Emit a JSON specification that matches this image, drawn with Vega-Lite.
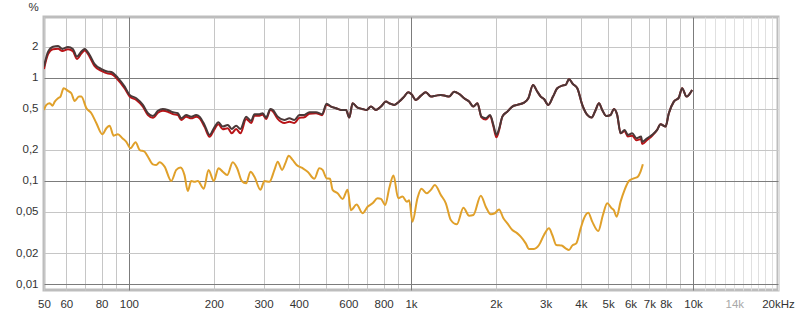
{
"$schema": "https://vega.github.io/schema/vega-lite/v6.json",
"autosize": "none",
"width": 734,
"height": 273,
"padding": {"left": 44, "top": 17, "right": 22, "bottom": 30},
"background": "white",
"config": {
  "view": {"stroke": "#bdbdbd", "strokeWidth": 3},
  "font": "Liberation Sans",
  "axis": {"labelFont": "Liberation Sans", "labelFontSize": 11.5, "labelColor": "#333333", "domain": false, "ticks": false, "gridWidth": 1}
},
"datasets": {
  "h3": [
{"f":50,"v":0.489},{"f":51,"v":0.547},{"f":52.4,"v":0.568},{"f":53.6,"v":0.538},{"f":54.6,"v":0.589},{"f":56.1,"v":0.635},{"f":57.2,"v":0.659},{"f":58.7,"v":0.794},{"f":60.8,"v":0.748},{"f":62.5,"v":0.71},{"f":64.2,"v":0.598},{"f":66.5,"v":0.659},{"f":67.8,"v":0.659},{"f":70.7,"v":0.508},{"f":73.6,"v":0.454},{"f":76.7,"v":0.363},{"f":80.5,"v":0.284},{"f":83.2,"v":0.325},{"f":85.4,"v":0.344},{"f":88.3,"v":0.275},{"f":91.4,"v":0.284},{"f":94.8,"v":0.26},{"f":97.9,"v":0.24},{"f":101.2,"v":0.208},{"f":105.6,"v":0.238},{"f":109.1,"v":0.2},{"f":113.7,"v":0.192},{"f":116.8,"v":0.172},{"f":121.6,"v":0.145},{"f":125,"v":0.143},{"f":128.4,"v":0.152},{"f":133.8,"v":0.138},{"f":141.3,"v":0.1},{"f":147.2,"v":0.128},{"f":152.4,"v":0.135},{"f":157.4,"v":0.114},{"f":161.7,"v":0.08},{"f":166.3,"v":0.1},{"f":170.8,"v":0.098},{"f":175.5,"v":0.1},{"f":184.3,"v":0.084},{"f":191.5,"v":0.128},{"f":200,"v":0.1},{"f":207.7,"v":0.133},{"f":215.1,"v":0.123},{"f":223,"v":0.114},{"f":233.4,"v":0.152},{"f":241.9,"v":0.133},{"f":251.2,"v":0.1},{"f":260.4,"v":0.095},{"f":269.7,"v":0.123},{"f":278.6,"v":0.11},{"f":292.6,"v":0.082},{"f":302.3,"v":0.1},{"f":314.8,"v":0.098},{"f":328,"v":0.128},{"f":336.9,"v":0.154},{"f":349.1,"v":0.128},{"f":358.7,"v":0.149},{"f":368.5,"v":0.176},{"f":380.6,"v":0.16},{"f":393.2,"v":0.143},{"f":412.9,"v":0.133},{"f":430.1,"v":0.123},{"f":454.3,"v":0.105},{"f":473.2,"v":0.133},{"f":486.1,"v":0.128},{"f":502.1,"v":0.106},{"f":516.3,"v":0.105},{"f":527.3,"v":0.082},{"f":549.3,"v":0.076},{"f":572.1,"v":0.067},{"f":596,"v":0.082},{"f":612.7,"v":0.052},{"f":641.4,"v":0.059},{"f":673.5,"v":0.0486},{"f":701.5,"v":0.0563},{"f":730.6,"v":0.0607},{"f":761.1,"v":0.068},{"f":782.4,"v":0.067},{"f":810.4,"v":0.0585},{"f":837.2,"v":0.085},{"f":867,"v":0.113},{"f":900.9,"v":0.068},{"f":933,"v":0.0705},{"f":967.1,"v":0.063},{"f":985.4,"v":0.065},{"f":1012,"v":0.0403},{"f":1054,"v":0.068},{"f":1089,"v":0.084},{"f":1138,"v":0.076},{"f":1176,"v":0.082},{"f":1215,"v":0.0915},{"f":1276,"v":0.073},{"f":1329,"v":0.0607},{"f":1384,"v":0.0418},{"f":1454,"v":0.038},{"f":1534,"v":0.055},{"f":1607,"v":0.046},{"f":1664,"v":0.0467},{"f":1768,"v":0.072},{"f":1841,"v":0.0563},{"f":1918,"v":0.0475},{"f":1982,"v":0.0486},{"f":2052,"v":0.053},{"f":2126,"v":0.0434},{"f":2196,"v":0.0388},{"f":2287,"v":0.0334},{"f":2382,"v":0.031},{"f":2449,"v":0.0288},{"f":2551,"v":0.0248},{"f":2620,"v":0.0219},{"f":2729,"v":0.0219},{"f":2843,"v":0.0239},{"f":2961,"v":0.0299},{"f":3085,"v":0.0347},{"f":3169,"v":0.0299},{"f":3273,"v":0.0239},{"f":3420,"v":0.0236},{"f":3533,"v":0.0222},{"f":3631,"v":0.0214},{"f":3730,"v":0.0236},{"f":3854,"v":0.0248},{"f":3995,"v":0.0347},{"f":4104,"v":0.0434},{"f":4250,"v":0.0492},{"f":4391,"v":0.0403},{"f":4610,"v":0.0327},{"f":4790,"v":0.0467},{"f":4961,"v":0.0607},{"f":5142,"v":0.0543},{"f":5240,"v":0.052},{"f":5356,"v":0.045},{"f":5534,"v":0.063},{"f":5718,"v":0.082},{"f":5922,"v":0.1},{"f":6168,"v":0.106},{"f":6370,"v":0.11},{"f":6512,"v":0.123},{"f":6637,"v":0.145}
  ],
  "red": [
{"f":50,"v":1.22},{"f":51.7,"v":1.7},{"f":53.8,"v":1.9},{"f":56.1,"v":1.92},{"f":58.1,"v":1.82},{"f":60.8,"v":1.9},{"f":63.3,"v":1.82},{"f":65.4,"v":1.53},{"f":67.8,"v":1.72},{"f":69.7,"v":1.85},{"f":72.6,"v":1.6},{"f":75.6,"v":1.3},{"f":79.9,"v":1.17},{"f":84.3,"v":1.1},{"f":86.6,"v":1.09},{"f":91.4,"v":0.96},{"f":96.6,"v":0.79},{"f":100.6,"v":0.66},{"f":106.2,"v":0.61},{"f":112.1,"v":0.525},{"f":116.8,"v":0.435},{"f":121.6,"v":0.41},{"f":123.3,"v":0.42},{"f":126.7,"v":0.46},{"f":131.9,"v":0.48},{"f":137.4,"v":0.47},{"f":143.2,"v":0.445},{"f":149.1,"v":0.435},{"f":153.3,"v":0.39},{"f":159.6,"v":0.42},{"f":166.3,"v":0.405},{"f":173.2,"v":0.42},{"f":178,"v":0.405},{"f":185.4,"v":0.335},{"f":193.1,"v":0.268},{"f":200,"v":0.31},{"f":207.7,"v":0.355},{"f":215.1,"v":0.318},{"f":224.1,"v":0.325},{"f":231.5,"v":0.29},{"f":240,"v":0.32},{"f":248.5,"v":0.29},{"f":260.4,"v":0.4},{"f":271.2,"v":0.365},{"f":278.6,"v":0.43},{"f":290.2,"v":0.43},{"f":298.1,"v":0.44},{"f":306.5,"v":0.4},{"f":317.4,"v":0.49},{"f":323.4,"v":0.475},{"f":336.9,"v":0.4},{"f":355.8,"v":0.365},{"f":370.6,"v":0.375},{"f":385.9,"v":0.365},{"f":402,"v":0.41},{"f":418.7,"v":0.415},{"f":436.1,"v":0.45},{"f":460.7,"v":0.455},{"f":483.7,"v":0.435},{"f":502.1,"v":0.55},{"f":520.5,"v":0.527},{"f":542.2,"v":0.508},{"f":564.8,"v":0.489},{"f":588.2,"v":0.489},{"f":604.3,"v":0.412},{"f":620.8,"v":0.568},{"f":646.6,"v":0.515},{"f":673.5,"v":0.5},{"f":695.9,"v":0.489},{"f":721.1,"v":0.527},{"f":751.1,"v":0.489},{"f":782.4,"v":0.527},{"f":815.1,"v":0.589},{"f":837.2,"v":0.568},{"f":872,"v":0.547},{"f":908.2,"v":0.589},{"f":946,"v":0.659},{"f":977.4,"v":0.726},{"f":1004,"v":0.695},{"f":1041,"v":0.611},{"f":1084,"v":0.673},{"f":1129,"v":0.726},{"f":1176,"v":0.659},{"f":1225,"v":0.673},{"f":1276,"v":0.684},{"f":1329,"v":0.669},{"f":1365,"v":0.659},{"f":1422,"v":0.736},{"f":1481,"v":0.7},{"f":1543,"v":0.635},{"f":1607,"v":0.589},{"f":1664,"v":0.527},{"f":1720,"v":0.568},{"f":1777,"v":0.415},{"f":1841,"v":0.395},{"f":1907,"v":0.43},{"f":1959,"v":0.34},{"f":2008,"v":0.265},{"f":2052,"v":0.31},{"f":2108,"v":0.421},{"f":2196,"v":0.471},{"f":2287,"v":0.527},{"f":2382,"v":0.547},{"f":2516,"v":0.575},{"f":2606,"v":0.635},{"f":2707,"v":0.855},{"f":2804,"v":0.736},{"f":2883,"v":0.659},{"f":2961,"v":0.625},{"f":3067,"v":0.547},{"f":3187,"v":0.659},{"f":3300,"v":0.794},{"f":3437,"v":0.842},{"f":3533,"v":0.855},{"f":3631,"v":0.97},{"f":3752,"v":0.869},{"f":3886,"v":0.794},{"f":4047,"v":0.547},{"f":4216,"v":0.437},{"f":4370,"v":0.412},{"f":4514,"v":0.489},{"f":4637,"v":0.568},{"f":4763,"v":0.489},{"f":4920,"v":0.428},{"f":5100,"v":0.437},{"f":5240,"v":0.5},{"f":5383,"v":0.437},{"f":5534,"v":0.29},{"f":5718,"v":0.305},{"f":5873,"v":0.27},{"f":6083,"v":0.275},{"f":6303,"v":0.248},{"f":6544,"v":0.255},{"f":6598,"v":0.228},{"f":6873,"v":0.25},{"f":7159,"v":0.275},{"f":7457,"v":0.313},{"f":7666,"v":0.355},{"f":7985,"v":0.337},{"f":8204,"v":0.454},{"f":8546,"v":0.589},{"f":8902,"v":0.644},{"f":9144,"v":0.794},{"f":9477,"v":0.659},{"f":9920,"v":0.765}
  ],
  "dark": [
{"f":50,"v":1.29},{"f":51.7,"v":1.8},{"f":53.8,"v":2.01},{"f":56.1,"v":2.04},{"f":58.1,"v":1.91},{"f":60.8,"v":2.0},{"f":63.3,"v":1.91},{"f":65.4,"v":1.61},{"f":67.8,"v":1.8},{"f":69.7,"v":1.91},{"f":72.6,"v":1.67},{"f":75.6,"v":1.36},{"f":79.9,"v":1.22},{"f":84.3,"v":1.15},{"f":86.6,"v":1.14},{"f":91.4,"v":1.0},{"f":96.6,"v":0.823},{"f":100.6,"v":0.684},{"f":106.2,"v":0.635},{"f":112.1,"v":0.547},{"f":116.8,"v":0.454},{"f":121.6,"v":0.428},{"f":123.3,"v":0.437},{"f":126.7,"v":0.48},{"f":131.9,"v":0.5},{"f":137.4,"v":0.489},{"f":143.2,"v":0.465},{"f":149.1,"v":0.454},{"f":153.3,"v":0.406},{"f":159.6,"v":0.437},{"f":166.3,"v":0.421},{"f":173.2,"v":0.437},{"f":178,"v":0.421},{"f":185.4,"v":0.35},{"f":193.1,"v":0.28},{"f":200,"v":0.325},{"f":207.7,"v":0.371},{"f":215.1,"v":0.337},{"f":224.1,"v":0.35},{"f":231.5,"v":0.32},{"f":240,"v":0.344},{"f":248.5,"v":0.32},{"f":260.4,"v":0.421},{"f":271.2,"v":0.383},{"f":278.6,"v":0.444},{"f":290.2,"v":0.444},{"f":298.1,"v":0.454},{"f":306.5,"v":0.412},{"f":317.4,"v":0.5},{"f":323.4,"v":0.489},{"f":336.9,"v":0.421},{"f":355.8,"v":0.391},{"f":370.6,"v":0.406},{"f":385.9,"v":0.391},{"f":402,"v":0.437},{"f":418.7,"v":0.437},{"f":436.1,"v":0.465},{"f":460.7,"v":0.465},{"f":483.7,"v":0.444},{"f":502.1,"v":0.56},{"f":520.5,"v":0.527},{"f":542.2,"v":0.508},{"f":564.8,"v":0.489},{"f":588.2,"v":0.489},{"f":604.3,"v":0.412},{"f":620.8,"v":0.568},{"f":646.6,"v":0.515},{"f":673.5,"v":0.5},{"f":695.9,"v":0.489},{"f":721.1,"v":0.527},{"f":751.1,"v":0.489},{"f":782.4,"v":0.527},{"f":815.1,"v":0.589},{"f":837.2,"v":0.568},{"f":872,"v":0.547},{"f":908.2,"v":0.589},{"f":946,"v":0.659},{"f":977.4,"v":0.726},{"f":1004,"v":0.695},{"f":1041,"v":0.611},{"f":1084,"v":0.673},{"f":1129,"v":0.726},{"f":1176,"v":0.659},{"f":1225,"v":0.673},{"f":1276,"v":0.684},{"f":1329,"v":0.669},{"f":1365,"v":0.659},{"f":1422,"v":0.736},{"f":1481,"v":0.7},{"f":1543,"v":0.635},{"f":1607,"v":0.589},{"f":1664,"v":0.527},{"f":1720,"v":0.568},{"f":1777,"v":0.421},{"f":1841,"v":0.406},{"f":1907,"v":0.437},{"f":1959,"v":0.35},{"f":2008,"v":0.28},{"f":2052,"v":0.32},{"f":2108,"v":0.421},{"f":2196,"v":0.471},{"f":2287,"v":0.527},{"f":2382,"v":0.547},{"f":2516,"v":0.575},{"f":2606,"v":0.635},{"f":2707,"v":0.855},{"f":2804,"v":0.736},{"f":2883,"v":0.659},{"f":2961,"v":0.625},{"f":3067,"v":0.547},{"f":3187,"v":0.659},{"f":3300,"v":0.794},{"f":3437,"v":0.842},{"f":3533,"v":0.855},{"f":3631,"v":0.97},{"f":3752,"v":0.869},{"f":3886,"v":0.794},{"f":4047,"v":0.547},{"f":4216,"v":0.437},{"f":4370,"v":0.412},{"f":4514,"v":0.489},{"f":4637,"v":0.568},{"f":4763,"v":0.489},{"f":4920,"v":0.428},{"f":5100,"v":0.437},{"f":5240,"v":0.5},{"f":5383,"v":0.437},{"f":5534,"v":0.29},{"f":5718,"v":0.313},{"f":5873,"v":0.28},{"f":6083,"v":0.29},{"f":6303,"v":0.26},{"f":6544,"v":0.27},{"f":6598,"v":0.24},{"f":6873,"v":0.26},{"f":7159,"v":0.28},{"f":7457,"v":0.313},{"f":7666,"v":0.355},{"f":7985,"v":0.337},{"f":8204,"v":0.454},{"f":8546,"v":0.589},{"f":8902,"v":0.644},{"f":9144,"v":0.794},{"f":9477,"v":0.659},{"f":9920,"v":0.765}
  ]
},
"encoding": {
  "x": {"field": "f", "type": "quantitative",
    "scale": {"type": "log", "domain": [50, 20000], "nice": false},
    "axis": {"title": null, "labelPadding": 8, "labelOverlap": false, "labelFlush": false,
      "values": [50,60,70,80,90,100,200,300,400,500,600,700,800,900,1000,2000,3000,4000,5000,6000,7000,8000,9000,10000,11000,12000,13000,14000,15000,16000,17000,18000,19000,20000],
      "labelExpr": "datum.value == 20000 ? '20kHz' : (indexof([1000,2000,3000,4000,5000,6000,7000,8000,10000,14000], datum.value) >= 0 ? (datum.value/1000) + 'k' : (indexof([50,60,80,100,200,300,400,600,800], datum.value) >= 0 ? datum.value + '' : ''))",
      "labelColor": {"condition": {"test": "datum.value == 14000", "value": "#a8a8a8"}, "value": "#333333"},
      "gridColor": {"condition": [{"test": "indexof([100,1000,10000], datum.value) >= 0", "value": "#7c7c7c"}, {"test": "datum.value > 10000", "value": "#e0e0e0"}], "value": "#c6c6c6"}
    }},
  "y": {"field": "v", "type": "quantitative",
    "scale": {"type": "log", "domain": [0.00875, 3.9], "nice": false},
    "axis": {"title": "%", "titleAngle": 0, "titleX": -11, "titleY": -10, "titleAlign": "center", "titleBaseline": "middle", "titleFontWeight": "normal", "titleFontSize": 11.5, "titleColor": "#333333", "titleFont": "Liberation Sans",
      "labelPadding": 6, "values": [0.01,0.02,0.05,0.1,0.2,0.5,1,2],
      "labelExpr": "replace(toString(datum.value), '.', ',')",
      "gridColor": {"condition": {"test": "indexof([0.01,0.1,1], datum.value) >= 0", "value": "#7c7c7c"}, "value": "#c6c6c6"}
    }}
},
"layer": [
  {"data": {"name": "h3"}, "mark": {"type": "line", "color": "#e0a02a", "strokeWidth": 2, "clip": true, "interpolate": "monotone"}},
  {"data": {"name": "red"}, "mark": {"type": "line", "color": "#b81418", "strokeWidth": 2, "clip": true, "interpolate": "monotone"}},
  {"data": {"name": "dark"}, "mark": {"type": "line", "color": "#4a3838", "strokeWidth": 2, "clip": true, "interpolate": "monotone"}}
]
}
